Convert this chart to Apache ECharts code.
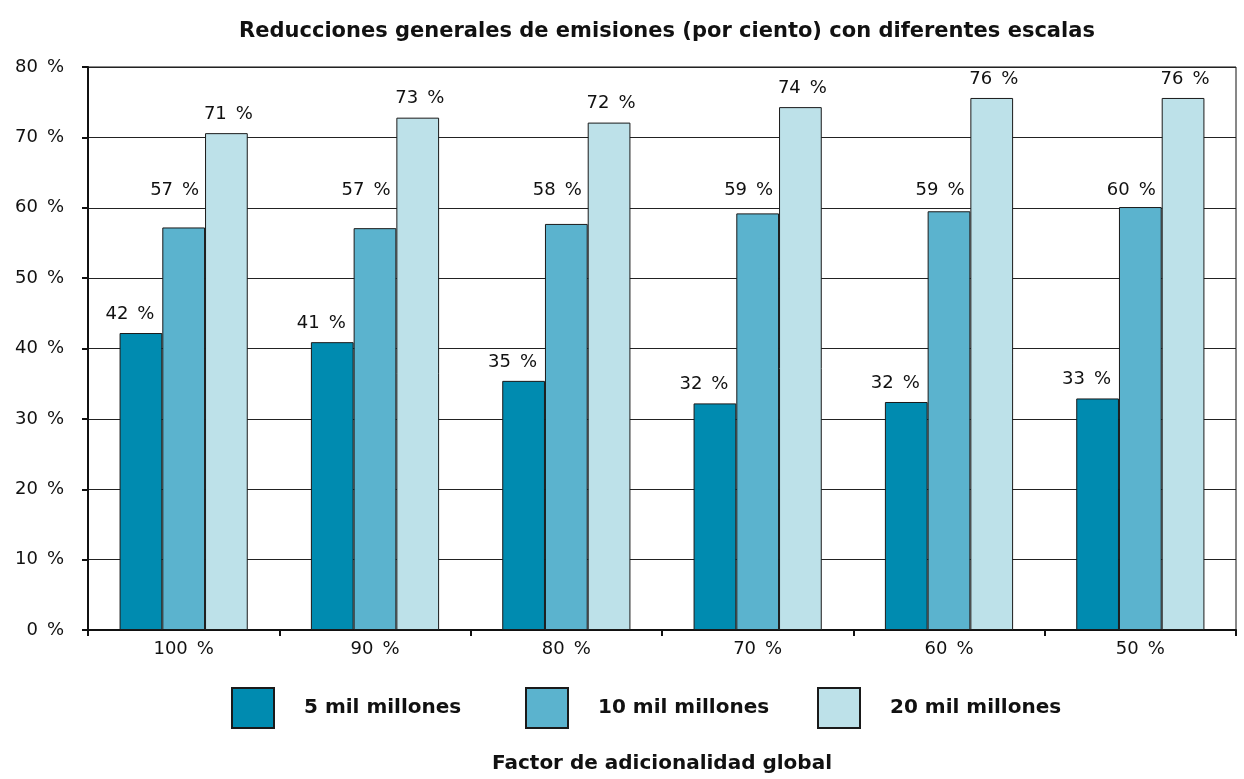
<!DOCTYPE html>
<html>
<head>
<meta charset="utf-8">
<script src="https://cdn.jsdelivr.net/npm/echarts@6/dist/echarts.min.js"></script>
<style>html,body{margin:0;padding:0;background:#fff}#c{width:1244px;height:779px}</style>
</head>
<body>
<div id="c"></div>
<script>
const categories = ['100 %', '90 %', '80 %', '70 %', '60 %', '50 %'];
const seriesNames = ['5 mil millones', '10 mil millones', '20 mil millones'];
const s5 = [42.2, 40.9, 35.4, 32.2, 32.4, 32.9];
const s10 = [57.2, 57.1, 57.7, 59.2, 59.5, 60.1];
const s20 = [70.6, 72.8, 72.1, 74.3, 75.6, 75.6];
const labels5 = ['42 %', '41 %', '35 %', '32 %', '32 %', '33 %'];
const labels10 = ['57 %', '57 %', '58 %', '59 %', '59 %', '60 %'];
const labels20 = ['71 %', '73 %', '72 %', '74 %', '76 %', '76 %'];
const yTicks = [0, 10, 20, 30, 40, 50, 60, 70, 80];

const FONT = '"DejaVu Sans", "Open Sans", sans-serif';
const colors = ['#008bb0', '#5bb3ce', '#bde1e9'];
const wide = s => s.replace(' ', '\u2002');
const chart = echarts.init(document.getElementById('c'), null, {renderer: 'canvas'});

function mkSeries(name, data, labs, color, dx) {
  return {
    name: name, type: 'bar', data: data,
    barGap: '0%', barCategoryGap: '33%',
    itemStyle: {color: color, borderColor: '#1a1a1a', borderWidth: 1},
    label: {
      show: true, position: 'top', distance: 10, offset: [dx, 0],
      fontFamily: FONT, fontSize: 18, color: '#111',
      formatter: p => wide(labs[p.dataIndex])
    },
    emphasis: {disabled: true}
  };
}

const legendBase = {
  top: 687, padding: 0, itemWidth: 42, itemHeight: 40, icon: 'rect',
  textStyle: {fontFamily: FONT, fontSize: 20, fontWeight: 'bold', color: '#111', padding: [0, 0, 0, 25]}
};

chart.setOption({
  animation: false,
  textStyle: {fontFamily: FONT},
  title: {
    text: 'Reducciones generales de emisiones (por ciento) con diferentes escalas',
    left: 662, top: 16, textAlign: 'center',
    textStyle: {fontFamily: FONT, fontSize: 21, fontWeight: 'bold', color: '#111'}
  },
  legend: [
    Object.assign({}, legendBase, {left: 231, data: [seriesNames[0]]}),
    Object.assign({}, legendBase, {left: 525, data: [seriesNames[1]]}),
    Object.assign({}, legendBase, {left: 817, data: [seriesNames[2]]})
  ],
  grid: {left: 88, right: 8, top: 67, bottom: 146, show: true, borderColor: '#111', borderWidth: 1},
  xAxis: {
    type: 'category', data: categories,
    name: 'Factor de adicionalidad global', nameLocation: 'middle', nameGap: 124,
    nameTextStyle: {fontFamily: FONT, fontSize: 20, fontWeight: 'bold', color: '#111'},
    axisLine: {lineStyle: {color: '#111', width: 2}},
    axisTick: {show: true, length: 6, lineStyle: {color: '#111', width: 2}},
    axisLabel: {fontFamily: FONT, fontSize: 18, color: '#111', margin: 10, formatter: v => wide(v)}
  },
  yAxis: {
    type: 'value', min: yTicks[0], max: yTicks[yTicks.length - 1], interval: 10,
    axisLine: {show: true, lineStyle: {color: '#111', width: 2}},
    axisTick: {show: true, length: 6, lineStyle: {color: '#111', width: 2}},
    axisLabel: {fontFamily: FONT, fontSize: 18, color: '#111', margin: 24, formatter: v => wide(v + ' %')},
    splitLine: {lineStyle: {color: '#222', width: 1}}
  },
  series: [
    mkSeries(seriesNames[0], s5, labels5, colors[0], -11),
    mkSeries(seriesNames[1], s10, labels10, colors[1], -9),
    mkSeries(seriesNames[2], s20, labels20, colors[2], 2)
  ]
});

// place the 10 mil labels at a common height as in the reference
const labelLevel = 62.6;
const yLevel = chart.convertToPixel({yAxisIndex: 0}, labelLevel);
chart.setOption({
  series: [{}, {
    data: s10.map(v => ({
      value: v,
      label: {offset: [-9, yLevel - chart.convertToPixel({yAxisIndex: 0}, v) + 10 + 10]}
    }))
  }, {}]
});
</script>
</body>
</html>
